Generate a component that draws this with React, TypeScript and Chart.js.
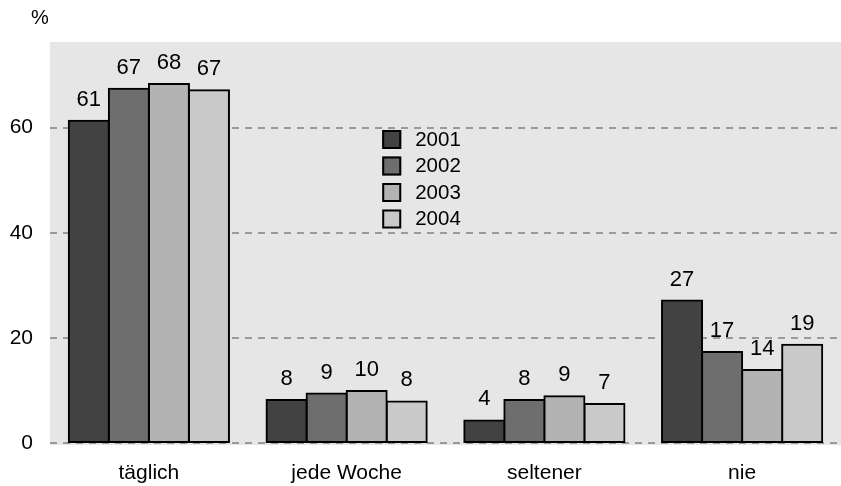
import React, { useEffect, useRef } from "react";
import { Chart, registerables } from "chart.js";

Chart.register(...registerables);

const categories = ["täglich", "jede Woche", "seltener", "nie"];
const years = ["2001", "2002", "2003", "2004"];
const values2001 = [61.3, 8.2, 4.3, 27.1];
const values2002 = [67.4, 9.4, 8.2, 17.3];
const values2003 = [68.3, 9.9, 8.9, 13.9];
const values2004 = [67.1, 7.9, 7.4, 18.7];
const yTicks = [0, 20, 40, 60];
const colors = ["#424242", "#6e6e6e", "#b3b3b3", "#c9c9c9"];
const FONT = "'Liberation Sans', Arial, sans-serif";

const bgPlugin = {
  id: "bgPlugin",
  beforeDraw(chart: any) {
    const { ctx, chartArea } = chart;
    ctx.save();
    ctx.fillStyle = "#e6e6e6";
    ctx.fillRect(chartArea.left, chartArea.top, chartArea.right - chartArea.left, chartArea.bottom - chartArea.top + 2);
    ctx.fillStyle = "#000";
    ctx.font = `20px ${FONT}`;
    ctx.textAlign = "center";
    ctx.textBaseline = "middle";
    ctx.fillText("%", chartArea.left - 10, chartArea.top - 24);
    ctx.restore();
  },
};

const labelPlugin = {
  id: "labelPlugin",
  afterDatasetsDraw(chart: any) {
    const { ctx, chartArea } = chart;
    ctx.save();
    ctx.fillStyle = "#000";
    ctx.font = `22px ${FONT}`;
    ctx.textAlign = "center";
    ctx.textBaseline = "alphabetic";
    chart.data.datasets.forEach((ds: any, i: number) => {
      const meta = chart.getDatasetMeta(i);
      meta.data.forEach((bar: any, j: number) => {
        ctx.fillText(String(Math.round(ds.data[j])), bar.x, bar.y - 15);
      });
    });
    // legend
    const lx = chartArea.left + 0.42 * (chartArea.right - chartArea.left);
    const ly = chartArea.top + 88;
    ctx.font = `20.5px ${FONT}`;
    ctx.textAlign = "left";
    ctx.textBaseline = "middle";
    chart.data.datasets.forEach((ds: any, i: number) => {
      const y = ly + i * 26.5;
      ctx.fillStyle = ds.backgroundColor;
      ctx.fillRect(lx, y, 19, 19);
      ctx.strokeStyle = "#000";
      ctx.lineWidth = 2;
      ctx.strokeRect(lx + 1, y + 1, 17, 17);
      ctx.fillStyle = "#000";
      ctx.fillText(ds.label, lx + 33, y + 10);
    });
    ctx.restore();
  },
};

export default function App() {
  const ref = useRef<HTMLCanvasElement>(null);
  useEffect(() => {
    const series = [values2001, values2002, values2003, values2004];
    const chart = new Chart(ref.current!, {
      type: "bar",
      data: {
        labels: categories,
        datasets: years.map((y, i) => ({
          label: y,
          data: series[i],
          backgroundColor: colors[i],
          borderColor: "#000",
          borderWidth: 2,
          borderSkipped: false,
          inflateAmount: 1,
          categoryPercentage: 0.81,
          barPercentage: 1,
        })),
      },
      options: {
        animation: false,
        responsive: true,
        maintainAspectRatio: false,
        layout: { padding: { top: 42, left: 0, right: 0, bottom: 0 } },
        plugins: { legend: { display: false }, tooltip: { enabled: false }, title: { display: false } },
        scales: {
          x: {
            grid: { display: false, drawTicks: false },
            border: { display: false },
            ticks: { color: "#000", font: { family: FONT, size: 21 }, padding: 18 },
            afterFit(scale: any) { scale.height = 43; },
          },
          y: {
            min: 0,
            max: 76.3,
            afterBuildTicks(scale: any) { scale.ticks = yTicks.map((v) => ({ value: v })); },
            grid: { color: "#9a9a9a", lineWidth: 2, drawTicks: false },
            border: { display: false, dash: [7, 6] },
            ticks: { color: "#000", font: { family: FONT, size: 21 }, padding: 17 },
            afterFit(scale: any) { scale.width = 50; },
          },
        },
      },
      plugins: [bgPlugin, labelPlugin],
    });
    return () => chart.destroy();
  }, []);
  return (
    <div style={{ position: "absolute", left: 0, top: 0, width: 841, height: 486 }}>
      <canvas ref={ref} />
    </div>
  );
}
